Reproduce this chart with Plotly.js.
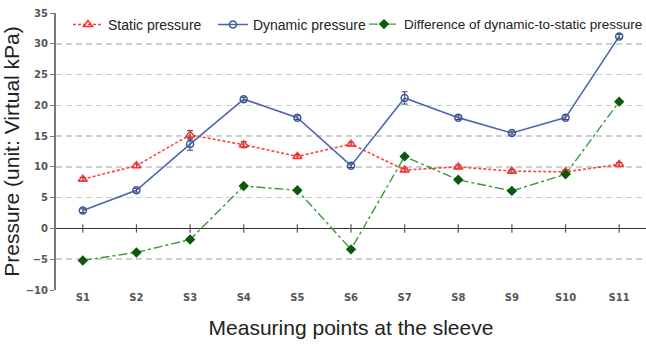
<!DOCTYPE html>
<html><head><meta charset="utf-8">
<script src="https://cdn.plot.ly/plotly-3.0.1.min.js"></script>
<style>html,body{margin:0;padding:0;background:#fff}#chart{width:646px;height:344px}</style>
</head><body><div id="chart"></div>
<script>
const categories = ["S1","S2","S3","S4","S5","S6","S7","S8","S9","S10","S11"];
const staticPressure = [8.0, 10.2, 15.2, 13.6, 11.7, 13.7, 9.5, 10.0, 9.3, 9.2, 10.4];
const staticError = [0.3, 0.3, 0.7, 0.5, 0.3, 0.3, 0.3, 0.3, 0.3, 0.3, 0.3];
const dynamicPressure = [2.9, 6.2, 13.7, 21.0, 18.0, 10.2, 21.2, 18.0, 15.5, 18.0, 31.2];
const dynamicError = [0.3, 0.3, 1.0, 0.3, 0.3, 0.3, 1.0, 0.3, 0.3, 0.3, 0.3];
const differencePressure = [-5.2, -3.9, -1.8, 6.9, 6.2, -3.4, 11.7, 7.9, 6.1, 8.8, 20.6];
const zeroTicks = categories.map(() => 0);

const traces = [
  {x: categories, y: staticPressure, name: "Static pressure", type: "scatter", mode: "lines+markers", legend: "legend",
   line: {color: "#ff4040", width: 1.6, dash: "3px,2px"},
   marker: {symbol: "triangle-up-open", size: 8, color: "#ff3030", line: {width: 1.5}},
   error_y: {type: "data", array: staticError, visible: true, color: "#444", thickness: 1, width: 3}},
  {x: categories, y: dynamicPressure, name: "Dynamic pressure", type: "scatter", mode: "lines+markers", legend: "legend2",
   line: {color: "#4a66b0", width: 1.6},
   marker: {symbol: "circle-open", size: 7, color: "#3a56a0", line: {width: 1.5}},
   error_y: {type: "data", array: dynamicError, visible: true, color: "#444", thickness: 1, width: 3}},
  {x: categories, y: differencePressure, name: "Difference of dynamic-to-static pressure", type: "scatter", mode: "lines+markers", legend: "legend3",
   line: {color: "#3a9a3a", width: 1.4, dash: "dashdot"},
   marker: {symbol: "diamond", size: 8, color: "#0a5a0a"}},
  {x: categories, y: zeroTicks, type: "scatter", mode: "markers", showlegend: false, hoverinfo: "skip",
   marker: {symbol: "line-ns-open", size: 6, color: "#555", line: {color: "#555", width: 1.2}}}
];

const legendBase = {orientation: "h", y: 1.015, xanchor: "left", yanchor: "top",
  font: {size: 14, color: "#222"}, bgcolor: "rgba(0,0,0,0)", itemwidth: 30};

const layout = {
  width: 646, height: 344,
  margin: {l: 56, r: 0, t: 13, b: 54, autoexpand: false},
  paper_bgcolor: "#fff", plot_bgcolor: "#fff",
  font: {family: "Liberation Sans, Arial, sans-serif", color: "#222"},
  showlegend: true,
  legend: Object.assign({}, legendBase, {x: 0.0203}),
  legend2: Object.assign({}, legendBase, {x: 0.266}),
  legend3: Object.assign({}, legendBase, {x: 0.522, font: {size: 13.5, color: "#222"}}),
  xaxis: {type: "category", range: [-0.5, 10.5], showgrid: false, zeroline: false, showline: false,
    ticks: "", tickfont: {size: 10, color: "#555", family: "DejaVu Sans", weight: "bold"},
    title: {text: "Measuring points at the sleeve", font: {size: 21, color: "#222"}, standoff: 18}},
  yaxis: {range: [-10, 35], dtick: 5, showgrid: true, gridcolor: "#cfcfcf", griddash: "6px,4px", gridwidth: 1.5,
    zeroline: true, zerolinecolor: "#333", zerolinewidth: 1.5,
    showline: true, linecolor: "#777", linewidth: 2, ticks: "outside", ticklen: 4, tickcolor: "#777",
    tickfont: {size: 10, color: "#555", family: "DejaVu Sans", weight: "bold"},
    title: {text: "Pressure (unit: Virtual kPa)", font: {size: 21, color: "#222"}, standoff: 0}}
};
Plotly.newPlot("chart", traces, layout, {displayModeBar: false, staticPlot: true});
</script></body></html>
